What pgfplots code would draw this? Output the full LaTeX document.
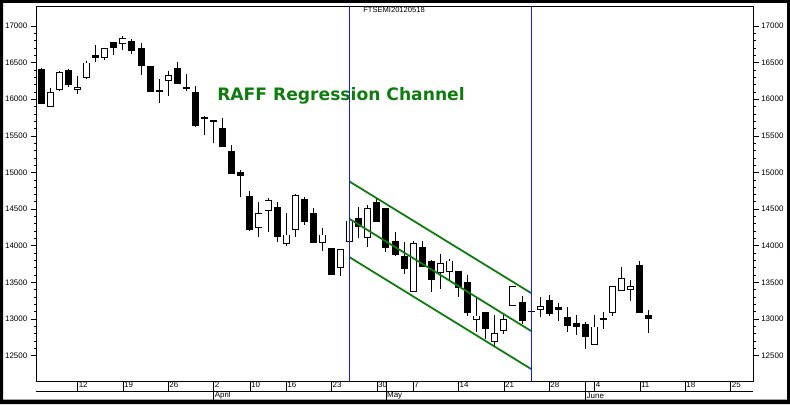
\documentclass[border=0pt]{standalone}
\usepackage{pgfplots}
\usepackage{pgfplotstable}
\pgfplotsset{compat=1.18}
\usepackage{fontspec}
\setmainfont{Liberation Sans}
\newfontfamily\titlefont{DejaVu Sans}
\definecolor{chgreen}{RGB}{16,124,16}
\definecolor{vblue}{RGB}{25,25,235}

% falling (black) candles: index, open, high, low, close
\pgfplotstableread{
x o h l c
-4 16418 16425 15930 15935
-1 16400 16418 16163 16200
2 16604 16746 16504 16563
4 16777 16780 16604 16700
6 16791 16818 16618 16659
7 16695 16764 16331 16454
8 16450 16450 16104 16104
9 16125 16276 15949 16110
11 16422 16504 16208 16208
12 16170 16345 16118 16150
13 16104 16186 15617 15630
14 15755 15767 15517 15725
15 15710 15722 15403 15685
16 15603 15740 15353 15353
17 15299 15376 14979 14979
18 15012 15040 14671 14957
19 14684 14753 14200 14215
22 14534 14593 14047 14125
25 14638 14665 14284 14330
26 14443 14511 14037 14037
28 13965 13965 13600 13600
31 14375 14525 14101 14252
33 14603 14638 14330 14330
34 14511 14511 13921 13965
35 14071 14183 13856 13873
36 13856 14056 13614 13682
38 13979 14060 13716 13716
39 13788 13800 13374 13532
42 13651 13651 13295 13419
43 13500 13600 13036 13081
45 13090 13100 12727 12863
49 13237 13318 12931 12978
50 13115 13125 13085 13095
52 13264 13327 13036 13068
53 13159 13214 12977 13122
54 13023 13168 12818 12900
55 12941 13054 12786 12896
56 12932 12964 12590 12759
58 13010 13090 12863 12990
62 13737 13787 13081 13081
63 13054 13122 12809 12999
}\down

% rising (white) candles: index, open, high, low, close
\pgfplotstableread{
x o h l c
-3 15900 16149 15900 16104
-2 16126 16390 16110 16377
0 16131 16313 16072 16172
1 16286 16527 16276 16500
3 16563 16700 16536 16700
5 16760 16859 16677 16832
10 16254 16381 16050 16327
20 14242 14593 14115 14443
21 14479 14651 14183 14624
23 14024 14443 13998 14152
24 14220 14702 14115 14688
27 14033 14238 13924 14152
29 13701 13951 13592 13951
30 14047 14343 14047 14343
32 14101 14552 13979 14511
37 13374 14060 13374 14033
40 13624 13887 13410 13760
41 13637 13820 13538 13797
44 12991 13282 12818 13046
46 12691 13054 12627 12808
47 12841 13054 12794 13004
48 13182 13455 13182 13455
51 13128 13296 13023 13173
57 12650 13054 12650 12896
59 13077 13446 13036 13446
60 13387 13705 13387 13555
61 13401 13532 13241 13455
}\up

\begin{document}
\begin{tikzpicture}[x=1bp,y=1bp]
\useasboundingbox (0,0) rectangle (790,404);
\fill[white] (0,0) rectangle (790,404);
% y ticks left with labels
\begin{axis}[at={(40,31)}, anchor=south west, scale only axis,
  width=717bp, height=375bp,
  xmin=-4.553, xmax=74.5, ymin=12149, ymax=17269,
  xtick=\empty, ytick={12500,13000,...,17000}, minor y tick num=4,
  ytick pos=both, yticklabel pos=left, tick align=outside,
  major tick length=5.5bp, minor tick length=2.5bp,
  tick style={black, line width=0.6bp},
  axis line style={line width=0.8bp},
  scaled y ticks=false,
  /pgf/number format/assume math mode=true,
  yticklabel style={font=\fontsize{8}{9}\selectfont, /pgf/number format/1000 sep={}},
]
\end{axis}
% y labels right
\begin{axis}[at={(40,31)}, anchor=south west, scale only axis,
  width=717bp, height=375bp,
  xmin=-4.553, xmax=74.5, ymin=12149, ymax=17269,
  xtick=\empty, ytick={12500,13000,...,17000}, minor y tick num=4,
  ytick pos=both, yticklabel pos=right, tick align=outside,
  major tick length=5.5bp, minor tick length=2.5bp,
  tick style={black, line width=0.6bp},
  axis line style={line width=0.8bp},
  scaled y ticks=false,
  /pgf/number format/assume math mode=true,
  yticklabel style={font=\fontsize{8}{9}\selectfont, /pgf/number format/1000 sep={}, xshift=-1bp},
]
\end{axis}
% main data axis
\begin{axis}[name=ax, at={(40,31)}, anchor=south west, scale only axis,
  width=717bp, height=375bp,
  xmin=-4.553, xmax=74.5, ymin=12149, ymax=17269,
  ytick=\empty,
  xtick={0,5,10,15,19,23,28,33,37,42,47,52,57,62,67,72},
  xticklabels={12,19,26,2,10,16,23,30,7,14,21,28,4,11,18,25},
  xtick pos=left, tick align=outside,
  major tick length=10bp,
  tick style={black, line width=0.6bp},
  axis line style={line width=0.8bp},
  xticklabel style={font=\fontsize{8}{9}\selectfont, anchor=west, inner sep=0pt, xshift=1bp, yshift=7bp},
  extra x ticks={15,34,56},
  extra x tick labels={April,May,June},
  extra x tick style={major tick length=21bp},
  clip=true,
]
% wicks
\addplot[draw=none, mark=none, forget plot, error bars/.cd, y dir=both, y explicit, error mark=none,
  error bar style={draw=black, line width=1bp}]
  table[x=x, y expr={(\thisrow{h}+\thisrow{l})/2}, y error expr={(\thisrow{h}-\thisrow{l})/2}] {\down};
\addplot[draw=none, mark=none, forget plot, error bars/.cd, y dir=both, y explicit, error mark=none,
  error bar style={draw=black, line width=1bp}]
  table[x=x, y expr={(\thisrow{h}+\thisrow{l})/2}, y error expr={(\thisrow{h}-\thisrow{l})/2}] {\up};
% black bodies
\addplot[draw=none, mark=none, forget plot, error bars/.cd, y dir=both, y explicit, error mark=none,
  error bar style={draw=black, line width=7bp}]
  table[x=x, y expr={(\thisrow{o}+\thisrow{c})/2}, y error expr={max(abs(\thisrow{o}-\thisrow{c})/2,10)}] {\down};
% white bodies
\addplot[draw=none, mark=none, forget plot, error bars/.cd, y dir=both, y explicit, error mark=none,
  error bar style={draw=black, line width=7bp}]
  table[x=x, y expr={(\thisrow{o}+\thisrow{c})/2}, y error expr={abs(\thisrow{o}-\thisrow{c})/2}] {\up};
\addplot[draw=none, mark=none, forget plot, error bars/.cd, y dir=both, y explicit, error mark=none,
  error bar style={draw=white, line width=5.2bp}]
  table[x=x, y expr={(\thisrow{o}+\thisrow{c})/2}, y error expr={max(abs(\thisrow{o}-\thisrow{c})/2-12,0.1)}] {\up};
% channel
\addplot[chgreen, line width=1.8bp, forget plot] coordinates {(30,14875) (50,13354)};
\addplot[chgreen, line width=1.8bp, forget plot] coordinates {(30,14365) (50,12836)};
\addplot[chgreen, line width=1.8bp, forget plot] coordinates {(30,13842) (50,12317)};
% vertical markers
\addplot[draw=vblue, line width=1.1bp, forget plot] coordinates {(30,12149) (30,17269)};
\addplot[draw=vblue, line width=1.1bp, forget plot] coordinates {(50,12149) (50,17269)};
\end{axis}
\draw[line width=0.8bp] ([yshift=-10bp]ax.south west) -- ([yshift=-10bp]ax.south east);
\node[font=\titlefont\bfseries\fontsize{17.2}{20}\selectfont, text=chgreen, anchor=base, inner sep=0pt] at (341,304) {RAFF Regression Channel};
\node[font=\fontsize{7.6}{9}\selectfont, inner sep=0pt] at (394,394) {FTSEMI20120518};
\fill[black, even odd rule] (0,0) rectangle (790,404) (3,4.5) rectangle (787,401);
\end{tikzpicture}
\end{document}
